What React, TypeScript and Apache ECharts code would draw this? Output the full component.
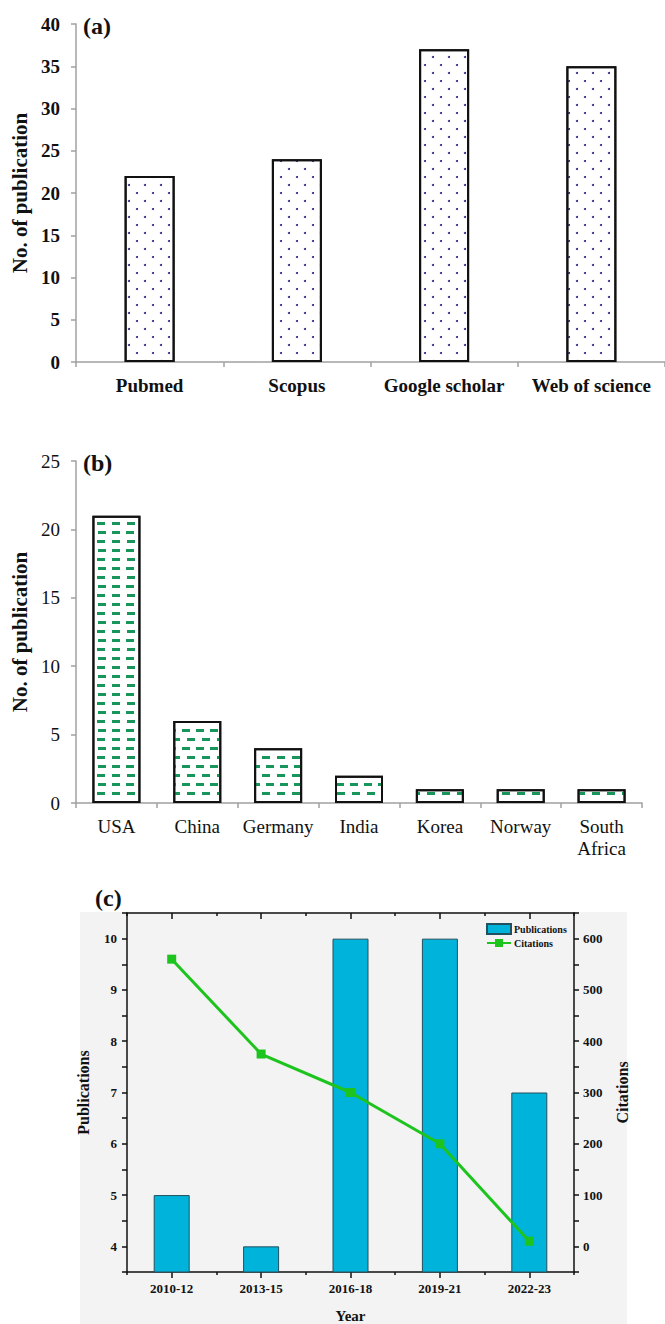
import React, { useEffect, useRef } from "react";
import * as echarts from "echarts";

// Panel (a)
const dbNames = ["Pubmed", "Scopus", "Google scholar", "Web of science"];
const dbCounts = [22, 24, 37, 35];
// Panel (b)
const countries = ["USA", "China", "Germany", "India", "Korea", "Norway", "South\nAfrica"];
const countryCounts = [21, 6, 4, 2, 1, 1, 1];
// Panel (c)
const years = ["2010-12", "2013-15", "2016-18", "2019-21", "2022-23"];
const publications = [5, 4, 10, 10, 7];
const citations = [560, 375, 300, 200, 10];

const SERIF = "Liberation Serif";
const GREY = "#a0a0a0";

export default function App() {
  const ref = useRef<HTMLDivElement>(null);
  useEffect(() => {
    document.body.style.margin = "0";
    const chart = echarts.init(ref.current!, null, { renderer: "svg" });
    const greyLine = { show: true, onZero: false, lineStyle: { color: GREY, width: 1.5 } };
    const blackLine = { show: true, onZero: false, lineStyle: { color: "#111", width: 1.5 } };
    const option: any = {
      animation: false,
      backgroundColor: "#fff",
      textStyle: { fontFamily: SERIF },
      graphic: [
        { type: "rect", z: -10, shape: { x: 80, y: 912, width: 547, height: 412 }, style: { fill: "#f3f3f3" } },
        { type: "text", x: 83, y: 26, style: { text: "(a)", fontFamily: SERIF, fontWeight: "bold", fontSize: 24, fill: "#111", verticalAlign: "middle" } },
        { type: "text", x: 83, y: 463, style: { text: "(b)", fontFamily: SERIF, fontWeight: "bold", fontSize: 24, fill: "#111", verticalAlign: "middle" } },
        { type: "text", x: 95, y: 898, style: { text: "(c)", fontFamily: SERIF, fontWeight: "bold", fontSize: 24, fill: "#111", verticalAlign: "middle" } },
      ],
      legend: {
        data: [{ name: "Publications", icon: "rect" }, { name: "Citations" }],
        orient: "vertical",
        left: 486,
        top: 923,
        padding: 0,
        itemGap: 3,
        itemWidth: 24,
        itemHeight: 10,
        textStyle: { fontFamily: SERIF, fontWeight: "bold", fontSize: 10, color: "#111", padding: [0, 0, 0, -2] },
      },
      grid: [
        { left: 76, top: 24, width: 592, height: 338 },
        { left: 76, top: 461, width: 566, height: 342 },
        { left: 127, top: 913, width: 447, height: 363 },
      ],
      xAxis: [
        {
          type: "category", gridIndex: 0, data: dbNames,
          axisLine: greyLine,
          axisTick: { show: true, length: 5, lineStyle: { color: GREY, width: 1.5 } },
          axisLabel: { interval: 0, margin: 14, fontSize: 19, fontWeight: "bold", color: "#111", fontFamily: SERIF },
        },
        {
          type: "category", gridIndex: 1, data: countries,
          axisLine: greyLine,
          axisTick: { show: true, length: 5, lineStyle: { color: GREY, width: 1.5 } },
          axisLabel: { interval: 0, margin: 12, fontSize: 19, color: "#111", fontFamily: SERIF, lineHeight: 22, verticalAlign: "top" },
        },
        {
          type: "category", gridIndex: 2, data: years, position: "bottom",
          axisLine: blackLine,
          axisTick: { show: true, alignWithLabel: true, length: 6, lineStyle: { color: "#111", width: 1.5 } },
          axisLabel: { interval: 0, margin: 10, fontSize: 13, fontWeight: "bold", color: "#111", fontFamily: SERIF },
          name: "Year", nameLocation: "middle", nameGap: 36,
          nameTextStyle: { fontSize: 15, fontWeight: "bold", color: "#111", fontFamily: SERIF, verticalAlign: "top" },
        },
        {
          type: "category", gridIndex: 2, data: years, position: "bottom",
          axisLine: { show: false, onZero: false },
          axisTick: { show: true, length: 3, lineStyle: { color: "#111", width: 1.5 } },
          axisLabel: { show: false },
        },
        {
          type: "category", gridIndex: 2, data: years, position: "top",
          axisLine: blackLine,
          axisTick: { show: true, inside: true, alignWithLabel: true, length: 6, lineStyle: { color: "#111", width: 1.5 } },
          axisLabel: { show: false },
        },
        {
          type: "category", gridIndex: 2, data: years, position: "top",
          axisLine: { show: false, onZero: false },
          axisTick: { show: true, inside: true, length: 3, lineStyle: { color: "#111", width: 1.5 } },
          axisLabel: { show: false },
        },
      ],
      yAxis: [
        {
          type: "value", gridIndex: 0, min: 0, max: 40, interval: 5,
          axisLine: greyLine,
          axisTick: { show: true, length: 5, lineStyle: { color: GREY, width: 1.5 } },
          splitLine: { show: false },
          axisLabel: { margin: 16, fontSize: 19, fontWeight: "bold", color: "#111", fontFamily: SERIF },
          name: "No. of publication", nameLocation: "middle", nameGap: 40, nameRotate: 90,
          nameTextStyle: { fontSize: 21, fontWeight: "bold", color: "#111", fontFamily: SERIF },
        },
        {
          type: "value", gridIndex: 1, min: 0, max: 25, interval: 5,
          axisLine: greyLine,
          axisTick: { show: true, length: 5, lineStyle: { color: GREY, width: 1.5 } },
          splitLine: { show: false },
          axisLabel: { margin: 16, fontSize: 19, color: "#111", fontFamily: SERIF },
          name: "No. of publication", nameLocation: "middle", nameGap: 40, nameRotate: 90,
          nameTextStyle: { fontSize: 21, fontWeight: "bold", color: "#111", fontFamily: SERIF },
        },
        {
          type: "value", gridIndex: 2, min: 3.5, max: 10.5, interval: 0.5, position: "left",
          axisLine: blackLine,
          axisTick: { show: true, length: 5, lineStyle: { color: "#111", width: 1.5 } },
          splitLine: { show: false },
          axisLabel: {
            margin: 10, fontSize: 13, fontWeight: "bold", color: "#111", fontFamily: SERIF,
            formatter: (v: number) => (Number.isInteger(v) ? String(v) : ""),
          },
          name: "Publications", nameLocation: "middle", nameGap: 36, nameRotate: 90,
          nameTextStyle: { fontSize: 16, fontWeight: "bold", color: "#111", fontFamily: SERIF },
        },
        {
          type: "value", gridIndex: 2, min: -50, max: 650, interval: 50, position: "right",
          axisLine: blackLine,
          axisTick: { show: true, length: 5, lineStyle: { color: "#111", width: 1.5 } },
          splitLine: { show: false },
          axisLabel: {
            margin: 9, fontSize: 13, fontWeight: "bold", color: "#111", fontFamily: SERIF,
            formatter: (v: number) => (v % 100 === 0 ? String(v) : ""),
          },
          name: "Citations", nameLocation: "middle", nameGap: 40, nameRotate: 90,
          nameTextStyle: { fontSize: 16, fontWeight: "bold", color: "#111", fontFamily: SERIF, verticalAlign: "top" },
        },
      ],
      series: [
        {
          type: "bar", xAxisIndex: 0, yAxisIndex: 0, data: dbCounts, barWidth: 50,
          itemStyle: {
            color: "#ffffff", borderColor: "#111", borderWidth: 2,
            decal: { symbol: "circle", symbolSize: 1, color: "#1a1a8a", dashArrayX: [[2, 14], [0, 8, 2, 6]], dashArrayY: [2, 6], rotation: 0 },
          },
        },
        {
          type: "bar", xAxisIndex: 1, yAxisIndex: 1, data: countryCounts, barWidth: 48,
          itemStyle: {
            color: "#ffffff", borderColor: "#111", borderWidth: 2,
            decal: { symbol: "rect", symbolSize: 1, color: "#17955a", dashArrayX: [[8, 6], [0, 7, 8, 0]], dashArrayY: [2.5, 5.5], rotation: 0 },
          },
        },
        {
          name: "Publications", type: "bar", xAxisIndex: 2, yAxisIndex: 2, data: publications, barWidth: 36, clip: true,
          itemStyle: { color: "#00b3da", borderColor: "#23505e", borderWidth: 1 },
        },
        {
          name: "Citations", type: "line", xAxisIndex: 2, yAxisIndex: 3, data: citations,
          symbol: "rect", symbolSize: 9,
          lineStyle: { color: "#1ec41e", width: 3 },
          itemStyle: { color: "#1ec41e" },
        },
      ],
    };
    chart.setOption(option);
    return () => chart.dispose();
  }, []);
  return <div ref={ref} style={{ width: 665, height: 1324, position: "absolute", left: 0, top: 0 }} />;
}
